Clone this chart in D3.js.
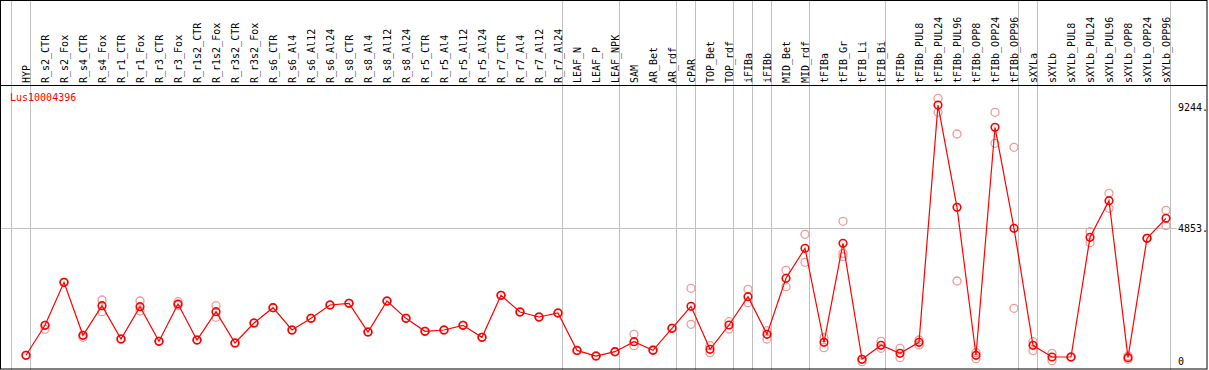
<!DOCTYPE html>
<html><head><meta charset="utf-8">
<script src="https://cdn.jsdelivr.net/npm/d3@7"></script>
<style>
html,body{margin:0;padding:0;background:#fff;}
svg{display:block;}
text{font-family:"DejaVu Sans Mono","Liberation Mono",monospace;font-size:10px;}
</style></head>
<body>
<svg id="chart" width="1209" height="370"></svg>
<script>
const title = "Lus10004396";
const categories = ["HYP","R_s2_CTR","R_s2_Fox","R_s4_CTR","R_s4_Fox","R_r1_CTR","R_r1_Fox","R_r3_CTR","R_r3_Fox","R_r1s2_CTR","R_r1s2_Fox","R_r3s2_CTR","R_r3s2_Fox","R_s6_CTR","R_s6_Al4","R_s6_Al12","R_s6_Al24","R_s8_CTR","R_s8_Al4","R_s8_Al12","R_s8_Al24","R_r5_CTR","R_r5_Al4","R_r5_Al12","R_r5_Al24","R_r7_CTR","R_r7_Al4","R_r7_Al12","R_r7_Al24","LEAF_N","LEAF_P","LEAF_NPK","SAM","AR_Bet","AR_rdf","cPAR","TOP_Bet","TOP_rdf","iFIBa","iFIBb","MID_Bet","MID_rdf","tFIBa","tFIB_Gr","tFIB_Li","tFIB_Bi","tFIBb","tFIBb_PUL8","tFIBb_PUL24","tFIBb_PUL96","tFIBb_OPP8","tFIBb_OPP24","tFIBb_OPP96","sXYLa","sXYLb","sXYLb_PUL8","sXYLb_PUL24","sXYLb_PUL96","sXYLb_OPP8","sXYLb_OPP24","sXYLb_OPP96"];
const groupSizes = [1,28,3,3,1,2,1,1,2,4,7,1,7];
const meanValues = [233,1324,2888,960,2038,826,2001,742,2099,789,1819,680,1408,1965,1153,1578,2063,2124,1080,2208,1578,1106,1153,1324,887,2415,1808,1626,1772,410,207,364,728,415,1215,2015,451,1335,2365,997,3034,4125,706,4307,87,597,306,706,9338,5617,233,8527,4853,597,171,171,4526,5858,146,4489,5217];
const rep1 = [233,1178,2888,887,2245,826,2208,742,2183,789,2038,680,1408,1965,1153,1578,2063,2124,1080,2208,1578,1106,1153,1324,887,2415,1808,1626,1772,410,207,364,997,445,1215,2670,582,1455,2634,1128,3325,4635,873,5108,0,742,487,789,9582,8284,327,9073,7800,728,306,171,4730,6126,207,4489,5508];
const rep2 = [233,1324,2888,960,1819,826,1844,742,2050,789,1615,680,1408,1965,1153,1578,2063,2124,1080,2208,1578,1106,1153,1324,887,2415,1808,1626,1772,410,207,364,582,415,1215,1361,327,1190,2146,826,2728,3616,509,3944,87,487,146,608,9073,2936,109,7945,1943,400,36,171,4330,5580,87,4489,4948];
const rep3 = [null,null,null,null,null,null,null,null,null,null,null,null,null,null,null,null,null,null,null,null,null,null,null,null,null,null,null,null,null,null,null,null,null,null,null,null,null,null,null,null,null,null,null,3820,null,null,null,null,null,null,null,null,null,null,null,null,null,null,null,null,null];
const tickValues = [0,4853,9244];
const tickLabels = ["0","4853.","9244."];
const gridValues = [4853];

const svg = d3.select("#chart");
const W = 1209, H = 370;

const x = d3.scaleBand().domain(categories).range([11, 11 + 19*categories.length]).paddingInner(0).paddingOuter(0);
const px = c => x(c) + 15;
const y = d3.scaleLinear().domain([0, 4853]).range([361.7, 228.3]);

// group boundary lines
let bounds = [];
let acc = 0;
bounds.push(0);
groupSizes.forEach(s => { acc += s; bounds.push(acc); });
const bx = k => k < categories.length ? x(categories[k]) : x(categories[categories.length-1]) + x.bandwidth();

svg.append("g").selectAll("line").data(bounds).join("line")
  .attr("x1", k => Math.round(bx(k)) + 0.5).attr("x2", k => Math.round(bx(k)) + 0.5)
  .attr("y1", 0).attr("y2", H)
  .attr("stroke", "#c0c0c0").attr("stroke-width", 1);

// horizontal grid
svg.append("g").selectAll("line").data(gridValues).join("line")
  .attr("x1", 1).attr("x2", 1177)
  .attr("y1", d => Math.round(y(d)) + 0.5).attr("y2", d => Math.round(y(d)) + 0.5)
  .attr("stroke", "#c0c0c0").attr("stroke-width", 1);

// borders
svg.append("rect").attr("x", 0.5).attr("y", 0.5).attr("width", 1206.5).attr("height", 368.5)
  .attr("fill", "none").attr("stroke", "#000").attr("stroke-width", 1);
svg.append("line").attr("x1", 0).attr("x2", 1207).attr("y1", 85.5).attr("y2", 85.5)
  .attr("stroke", "#000").attr("stroke-width", 1);

// header labels
svg.append("g").selectAll("text").data(categories).join("text")
  .attr("transform", c => `translate(${px(c) + 4},83) rotate(-90)`)
  .attr("text-anchor", "start")
  .attr("fill", "#000")
  .text(c => c);

// y axis labels
svg.append("g").selectAll("text").data(tickValues).join("text")
  .attr("x", 1178)
  .attr("y", d => y(d) + 3.6)
  .attr("fill", "#000")
  .text((d, i) => tickLabels[i]);

// title
svg.append("text").attr("x", 10).attr("y", 101).attr("fill", "#ff0000").text(title);

// replicate points
const reps = [];
[rep1, rep2, rep3].forEach(arr => arr.forEach((v, i) => { if (v !== null) reps.push({c: categories[i], v}); }));
svg.append("g").selectAll("circle").data(reps).join("circle")
  .attr("cx", d => px(d.c)).attr("cy", d => y(d.v)).attr("r", 4)
  .attr("fill", "none").attr("stroke", "#ee9a9a").attr("stroke-width", 1.3);

// mean line
const line = d3.line().x((d, i) => px(categories[i])).y(d => y(d));
svg.append("path").datum(meanValues).attr("d", line)
  .attr("fill", "none").attr("stroke", "#ff0000").attr("stroke-width", 1.2);

// mean points
svg.append("g").selectAll("circle").data(meanValues).join("circle")
  .attr("cx", (d, i) => px(categories[i])).attr("cy", d => y(d)).attr("r", 3.8)
  .attr("fill", "none").attr("stroke", "#ff0000").attr("stroke-width", 1.6);
</script>
</body></html>
